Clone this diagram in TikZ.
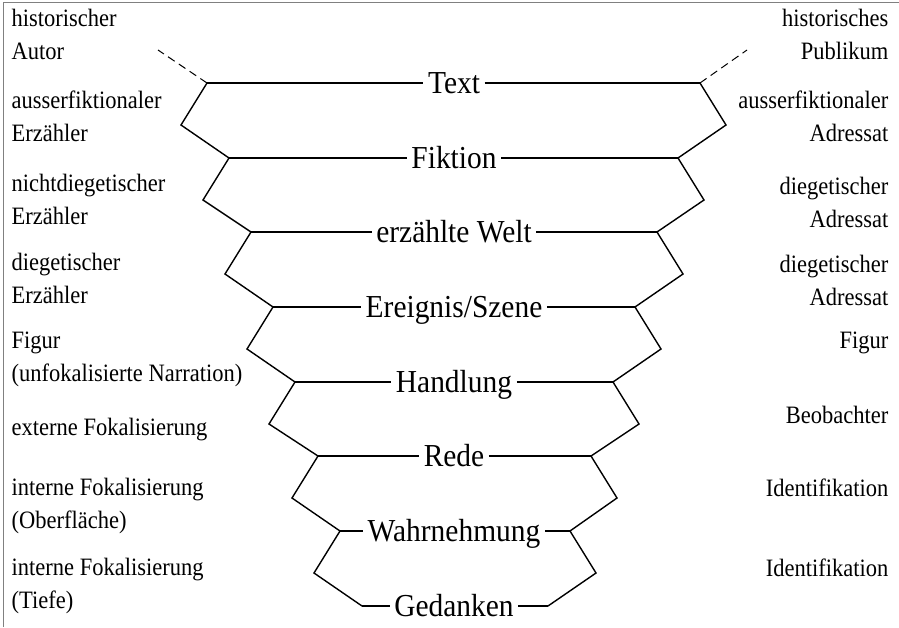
\documentclass[tikz,border=0pt]{standalone}
\usepackage{fontspec}
\setmainfont{Liberation Serif}
\newfontfamily\levelfont[FakeStretch=0.92]{Liberation Serif}
\newfontfamily\sidefont[FakeStretch=0.9]{Liberation Serif}

\tikzstyle{level} = [inner xsep=4pt, inner ysep=0pt, text height=21pt, text depth=0pt, font=\levelfont\fontsize{32}{32}\selectfont]
\tikzstyle{leftside} = [anchor=west, align=left, inner sep=0pt, font=\sidefont\fontsize{25}{33}\selectfont]
\tikzstyle{rightside} = [anchor=east, align=right, inner sep=0pt, font=\sidefont\fontsize{25}{33}\selectfont]

\begin{document}
\begin{tikzpicture}[x=1pt, y=-1pt, line width=1.4pt]
  \useasboundingbox (0,0) rectangle (899,627);
  \draw[gray, line width=1pt] (3,627) -- (3,2) -- (899,2);

  % ends of the level lines
  \coordinate (l1) at (207,83);   \coordinate (r1) at (700,83);
  \coordinate (l2) at (229,158);  \coordinate (r2) at (678,158);
  \coordinate (l3) at (251,232);  \coordinate (r3) at (657,232);
  \coordinate (l4) at (273,307);  \coordinate (r4) at (635,307);
  \coordinate (l5) at (295,382);  \coordinate (r5) at (613,382);
  \coordinate (l6) at (318,456);  \coordinate (r6) at (591,456);
  \coordinate (l7) at (340,531);  \coordinate (r7) at (570,531);
  \coordinate (l8) at (362,606);  \coordinate (r8) at (548,606);

  % outer bends
  \coordinate (ol1) at (181,125); \coordinate (or1) at (726,125);
  \coordinate (ol2) at (203,200); \coordinate (or2) at (704,200);
  \coordinate (ol3) at (225,274); \coordinate (or3) at (683,274);
  \coordinate (ol4) at (247,349); \coordinate (or4) at (661,349);
  \coordinate (ol5) at (269,424); \coordinate (or5) at (639,424);
  \coordinate (ol6) at (292,498); \coordinate (or6) at (617,498);
  \coordinate (ol7) at (314,573); \coordinate (or7) at (596,573);

  \coordinate (autor) at (158,50);
  \coordinate (publikum) at (747,50);

  \node[level] (text) at (454,83) {Text};
  \node[level] (fiktion) at (454,158) {Fiktion};
  \node[level] (welt) at (454,232) {erzählte Welt};
  \node[level] (ereignis) at (454,307) {Ereignis/Szene};
  \node[level] (handlung) at (454,382) {Handlung};
  \node[level] (rede) at (454,456) {Rede};
  \node[level] (wahrnehmung) at (454,531) {Wahrnehmung};
  \node[level] (gedanken) at (454,606) {Gedanken};

  \draw (l1) -- (text); \draw (text) -- (r1);
  \draw (l2) -- (fiktion); \draw (fiktion) -- (r2);
  \draw (l3) -- (welt); \draw (welt) -- (r3);
  \draw (l4) -- (ereignis); \draw (ereignis) -- (r4);
  \draw (l5) -- (handlung); \draw (handlung) -- (r5);
  \draw (l6) -- (rede); \draw (rede) -- (r6);
  \draw (l7) -- (wahrnehmung); \draw (wahrnehmung) -- (r7);
  \draw (l8) -- (gedanken); \draw (gedanken) -- (r8);

  \draw (l1) -- (ol1) -- (l2) -- (ol2) -- (l3) -- (ol3) -- (l4) -- (ol4) -- (l5) -- (ol5) -- (l6) -- (ol6) -- (l7) -- (ol7) -- (l8);
  \draw (r1) -- (or1) -- (r2) -- (or2) -- (r3) -- (or3) -- (r4) -- (or4) -- (r5) -- (or5) -- (r6) -- (or6) -- (r7) -- (or7) -- (r8);

  \draw[dash pattern=on 8pt off 5pt, line width=1pt] (l1) -- (autor);
  \draw[dash pattern=on 8pt off 5pt, line width=1pt] (r1) -- (publikum);

  \node[leftside] (a1) at (11,34) {historischer\\Autor};
  \node[leftside] (a2) at (11,116) {ausserfiktionaler\\Erzähler};
  \node[leftside] (a3) at (11,199) {nichtdiegetischer\\Erzähler};
  \node[leftside] (a4) at (11,278) {diegetischer\\Erzähler};
  \node[leftside] (a5) at (11,359) {Figur\\(unfokalisierte Narration)};
  \node[leftside] (a6) at (11,430) {externe Fokalisierung};
  \node[leftside] (a7) at (11,506) {interne Fokalisierung\\(Oberfläche)};
  \node[leftside] (a8) at (11,586) {interne Fokalisierung\\(Tiefe)};

  \node[rightside] (p1) at (889,34) {historisches\\Publikum};
  \node[rightside] (p2) at (889,116) {ausserfiktionaler\\Adressat};
  \node[rightside] (p3) at (889,202) {diegetischer\\Adressat};
  \node[rightside] (p4) at (889,280) {diegetischer\\Adressat};
  \node[rightside] (p5) at (889,343) {Figur};
  \node[rightside] (p6) at (889,415) {Beobachter};
  \node[rightside] (p7) at (889,488) {Identifikation};
  \node[rightside] (p8) at (889,568) {Identifikation};
\end{tikzpicture}
\end{document}
